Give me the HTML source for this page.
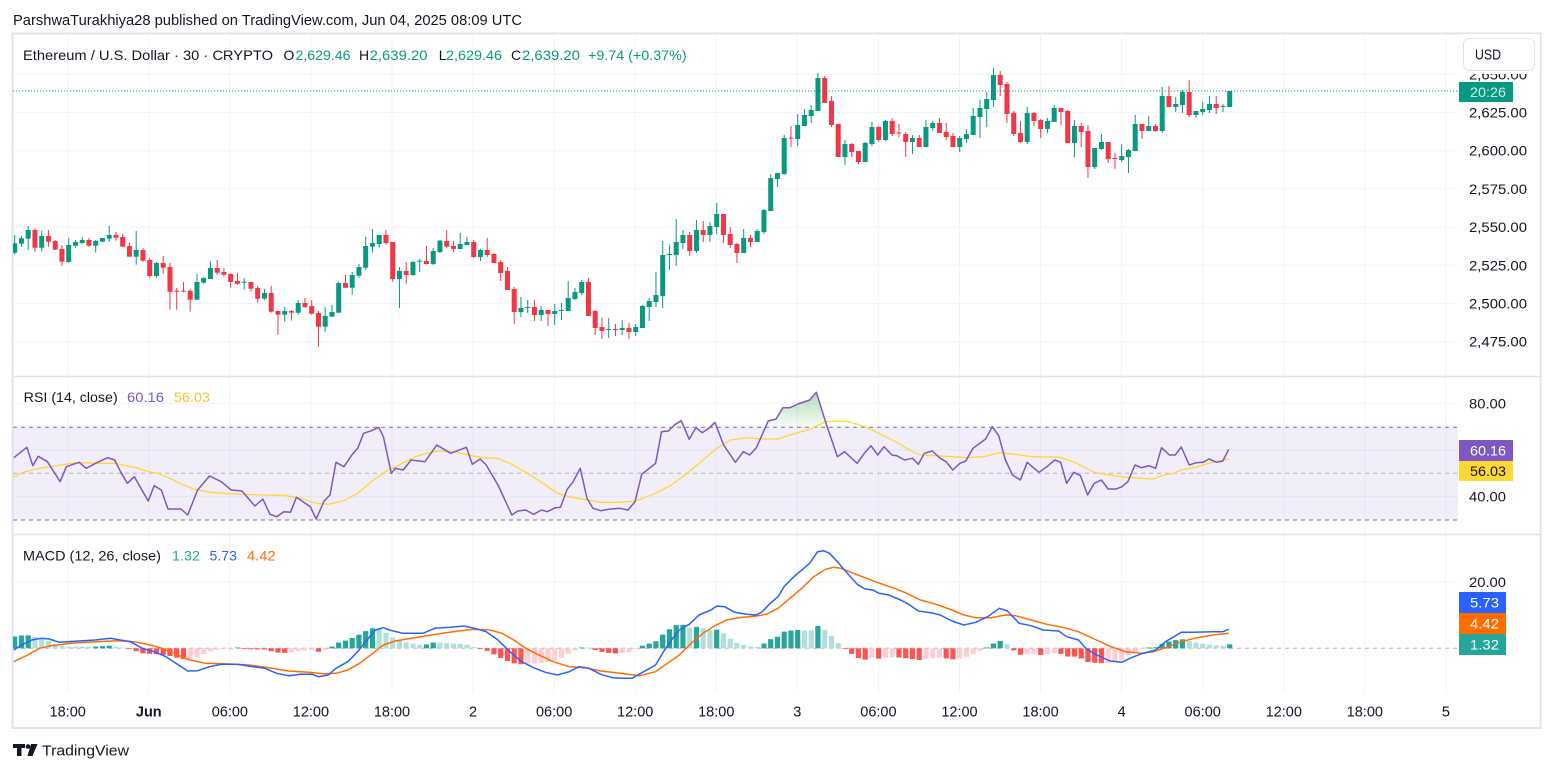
<!DOCTYPE html>
<html><head><meta charset="utf-8">
<style>
html,body{margin:0;padding:0;background:#fff;}
svg{display:block;font-family:"Liberation Sans",sans-serif;}
</style></head>
<body>
<svg id="s" width="1553" height="772" viewBox="0 0 1553 772" xmlns="http://www.w3.org/2000/svg">
<defs>
<clipPath id="cp"><rect x="13" y="34" width="1445" height="342"/></clipPath>
<clipPath id="cr"><rect x="13" y="377" width="1445" height="156"/></clipPath>
<clipPath id="cm"><rect x="13" y="535" width="1445" height="157"/></clipPath>
<clipPath id="cob"><rect x="13" y="377" width="1445" height="50.3"/></clipPath>
<linearGradient id="gg" x1="0" y1="390" x2="0" y2="427.3" gradientUnits="userSpaceOnUse">
<stop offset="0" stop-color="#4caf50" stop-opacity="0.45"/>
<stop offset="1" stop-color="#4caf50" stop-opacity="0.04"/>
</linearGradient>
</defs>
<rect width="1553" height="772" fill="#fff"/>
<text x="13" y="25" font-size="15" fill="#131722" textLength="509" lengthAdjust="spacingAndGlyphs">ParshwaTurakhiya28 published on TradingView.com, Jun 04, 2025 08:09 UTC</text>
<rect x="12.5" y="33.5" width="1528" height="694.5" fill="#fff" stroke="#e0e3eb" stroke-width="2"/>
<g id="grid" stroke="#f0f3fa" stroke-width="1"></g>
<rect x="13" y="427.3" width="1445" height="92.7" fill="#7e57c2" fill-opacity="0.1"/>
<line x1="13" y1="427.3" x2="1458" y2="427.3" stroke="#787b86" stroke-dasharray="4 4" stroke-width="1"/>
<line x1="13" y1="473.3" x2="1458" y2="473.3" stroke="#b2b5be" stroke-dasharray="4 4" stroke-width="1"/>
<line x1="13" y1="520" x2="1458" y2="520" stroke="#787b86" stroke-dasharray="4 4" stroke-width="1"/>
<line x1="13" y1="648.3" x2="1458" y2="648.3" stroke="#b2b5be" stroke-dasharray="4 4" stroke-width="1"/>
<line x1="12" y1="376.5" x2="1541" y2="376.5" stroke="#e0e3eb" stroke-width="1.5"/>
<line x1="12" y1="534.5" x2="1541" y2="534.5" stroke="#e0e3eb" stroke-width="1.5"/>
<g id="candles" clip-path="url(#cp)"></g>
<line x1="13" y1="91" x2="1458" y2="91" stroke="#089981" stroke-width="1" stroke-dasharray="1.2 1.8"/>
<g id="rsi" clip-path="url(#cr)"></g>
<g id="macd" clip-path="url(#cm)"></g>
<g id="labels" font-size="14" fill="#131722"></g>

<g font-size="14" fill="#131722">
<text x="23" y="60" textLength="250" lengthAdjust="spacingAndGlyphs">Ethereum / U.S. Dollar · 30 · CRYPTO</text>
<text x="283.5" y="60">O</text>
<text x="295.5" y="60" fill="#089981" textLength="55" lengthAdjust="spacingAndGlyphs">2,629.46</text>
<text x="359" y="60">H</text>
<text x="369.6" y="60" fill="#089981" textLength="58" lengthAdjust="spacingAndGlyphs">2,639.20</text>
<text x="438.8" y="60">L</text>
<text x="446" y="60" fill="#089981" textLength="56" lengthAdjust="spacingAndGlyphs">2,629.46</text>
<text x="511" y="60">C</text>
<text x="522" y="60" fill="#089981" textLength="58" lengthAdjust="spacingAndGlyphs">2,639.20</text>
<text x="588" y="60" fill="#089981" textLength="98.6" lengthAdjust="spacingAndGlyphs">+9.74 (+0.37%)</text>

<text x="23.7" y="402" textLength="94" lengthAdjust="spacingAndGlyphs">RSI (14, close)</text>
<text x="127" y="402" fill="#7e57c2" textLength="37" lengthAdjust="spacingAndGlyphs">60.16</text>
<text x="174" y="402" fill="#f7c52a" textLength="36" lengthAdjust="spacingAndGlyphs">56.03</text>

<text x="23" y="560.5" textLength="138" lengthAdjust="spacingAndGlyphs">MACD (12, 26, close)</text>
<text x="172" y="560.5" fill="#22ab94" textLength="28" lengthAdjust="spacingAndGlyphs">1.32</text>
<text x="209.5" y="560.5" fill="#2962ff" textLength="27.5" lengthAdjust="spacingAndGlyphs">5.73</text>
<text x="247" y="560.5" fill="#ff6d00" textLength="28.5" lengthAdjust="spacingAndGlyphs">4.42</text>
</g>

<rect x="1459" y="34" width="81" height="40" fill="#fff"/>
<rect x="1463.5" y="38.5" width="71" height="32" rx="6" fill="#fff" stroke="#e0e3eb" stroke-width="1"/>
<text x="1475" y="59.5" font-size="15" fill="#131722" textLength="26" lengthAdjust="spacingAndGlyphs">USD</text>
<rect x="1459" y="82" width="54" height="20" fill="#089981"/>
<text x="1470" y="97" font-size="14" fill="#d5f0ea" textLength="36" lengthAdjust="spacingAndGlyphs">20:26</text>

<rect x="1459" y="440" width="54" height="21" fill="#7e57c2"/>
<text x="1470" y="455.5" font-size="14" fill="#fff" textLength="36" lengthAdjust="spacingAndGlyphs">60.16</text>
<rect x="1459" y="461" width="54" height="20" fill="#fdd835"/>
<text x="1470" y="476" font-size="14" fill="#131722" textLength="36" lengthAdjust="spacingAndGlyphs">56.03</text>

<rect x="1459" y="592" width="47" height="21" fill="#2962ff"/>
<text x="1470" y="607.5" font-size="14" fill="#fff" textLength="29" lengthAdjust="spacingAndGlyphs">5.73</text>
<rect x="1459" y="613" width="47" height="21" fill="#ff6d00"/>
<text x="1470" y="628.5" font-size="14" fill="#fff" textLength="29" lengthAdjust="spacingAndGlyphs">4.42</text>
<rect x="1459" y="634" width="47" height="21" fill="#26a69a"/>
<text x="1470" y="649.5" font-size="14" fill="#fff" textLength="29" lengthAdjust="spacingAndGlyphs">1.32</text>

<g fill="#131722">
<rect x="13" y="744" width="12" height="4"/>
<rect x="17" y="744" width="4.5" height="12"/>
<circle cx="28" cy="746.5" r="2.3"/>
<polygon points="31,744 37.5,744 32.5,756 27.5,756"/>
</g>
<text x="42" y="755.5" font-size="15" fill="#131722" textLength="87" lengthAdjust="spacingAndGlyphs">TradingView</text>
</svg>
<script>
(function(){
var NS="http://www.w3.org/2000/svg";
function el(p,t,a,txt){var e=document.createElementNS(NS,t);for(var k in a)e.setAttribute(k,a[k]);if(txt!=null)e.textContent=txt;p.appendChild(e);return e;}

var grid=document.getElementById('grid');
for(var i=0;i<18;i++){var gx=67.7+i*81.07;el(grid,'line',{x1:gx,y1:34,x2:gx,y2:692});}
[74.3,112.5,150.7,188.9,227.1,265.3,303.5,341.7,403.3,450,496.7,582].forEach(function(y){el(grid,'line',{x1:13,y1:y,x2:1458,y2:y});});

var lab=document.getElementById('labels');
[["2,650.00",74.3],["2,625.00",112.5],["2,600.00",150.7],["2,575.00",188.9],["2,550.00",227.1],["2,525.00",265.3],["2,500.00",303.5],["2,475.00",341.7]].forEach(function(p){el(lab,'text',{x:1469,y:p[1]+5,textLength:58,lengthAdjust:'spacingAndGlyphs'},p[0]);});
[["80.00",403.3],["40.00",496.7],["20.00",582]].forEach(function(p){el(lab,'text',{x:1469,y:p[1]+5,textLength:37,lengthAdjust:'spacingAndGlyphs'},p[0]);});
var tl=["18:00","Jun","06:00","12:00","18:00","2","06:00","12:00","18:00","3","06:00","12:00","18:00","4","06:00","12:00","18:00","5"];
tl.forEach(function(t,i){var a={x:67.7+i*81.07,y:716.5,'text-anchor':'middle','font-size':'14.5'};if(t==="Jun")a['font-weight']='bold';el(lab,'text',a,t);});

var C=[
["g",243.3,252.7,235,254.3],["g",238.3,243.7,236,246.7],["g",230,238.7,226,250],["r",230,247.7,228.3,251.7],["g",236,247.7,231,251.7],
["r",236,241.7,230,246.7],["r",241,249.7,240,250],["r",249,261.7,245,265.7],["g",245,262,237.7,262.7],["g",242,245.7,240,247.7],
["g",240,243,237,244.3],["r",240,245.7,238,246.7],["g",241,245.7,240,252.7],["g",238,241.7,238,242.3],["g",235,238.7,226,241.7],
["r",235,237.7,232,240.7],["r",237,246.7,234,246.7],["r",246,256.7,242.7,256.7],["g",250,256.7,231,264.7],["r",250,260.7,248,261.7],
["r",260,276,258,277.7],["g",263,276,262,277.7],["r",263,267.7,256,273.7],["r",267,291.7,263,309.7],["r",290.7,291.7,288,309.7],
["r",290.7,291.7,282,292.3],["r",290.7,299.7,288.7,311.7],["g",282,299.7,274,299.7],["g",278,282.7,277.3,283.7],["g",268,279,261,279],
["r",268,272.7,260,275],["r",272,274.7,268,276.7],["r",274,282,273,287.7],["r",281,283.7,273,284.7],["g",281.7,282.7,278,289.7],
["r",282,288.7,282,291.7],["r",288,298.7,286,302.7],["g",293,298.7,289,300],["r",293,311.7,286,312.7],["r",311,314.7,311,334.7],
["g",311,314.7,307,321.7],["r",311,312.7,310,320.7],["g",303,312.7,300,314.7],["r",303,307,298,308],["r",306,313.7,300,314.7],
["r",313,326.7,311,346.7],["g",316,326.7,307,331.7],["g",312,316.7,305,316.7],["g",283,312.7,281.3,312.7],["r",283,287.7,275,288.3],
["g",275,287.7,272,294.7],["g",267,275.7,264,277.7],
["g",246,267.7,236.7,270],["g",243,246.7,229,252.7],["g",235,244,235,247.7],["r",235,243,230,244.7],["r",242,279,242,281.7],
["g",271,279,267,308],["r",271,275,262,283.7],["g",262,275,261,276],["g",260.7,261.7,259,272],["r",261,264,246,264.7],
["g",251,264,248,265],["g",240.7,252,240,253],["r",241,246.7,230,247.7],["r",246,249,241,252],["g",244,249,233,249],
["g",242,245,237,245],["r",242,257,240,258],["g",250,257,249,261],["r",250,255,238,257],["r",254,263,253,263],
["r",262,273,260,281],["r",271,290,267,290],["r",289,312,287,324],["g",308,312,297,317],["g",307,308,300,313],
["r",307,315,300,321],["g",310,315,306,321],["r",310,314,310,326],["g",311,314,304,325],["g",310,311,303,320],
["g",298,311,281,311],["g",292,299,288,300],["g",282,293,280,295],["r",282,316,278,316],["r",311,328,310,335],
["r",327,331,318,339],["g",329,330,318,338],["r",329,330,324,336],["g",328,330,320,335],["r",328,332,323,339],
["g",327,332,324,336],["g",306,328,305,328],["g",301,307,298,321],["g",295,302,272,307],["g",255,296,241,308],
["g",254,255,245,270],["g",242,255,219,266],["g",235,243,230,249],["r",235,251,232,256],["g",230,251,220,253],
["r",230,235,221,242],["g",226,235,222,242],["g",214,227,203,234],["r",214,235,214,243],["r",234,245,227,248],
["r",244,253,243,263],["g",238,253,229,253],["r",238,242,235,247],["g",231,242,229,242],["g",210,232,209,234],
["g",178,211,174,211],["g",173,179,173,187],["g",138,174,135,175],["r",137.5,138.5,126,147],["g",125,139,114,146],
["g",115,126,109,126],["g",110,116,105,123],["g",78,111,73,111],["r",78,103,76,103],["r",101,125,96,127],
["r",124,157,124,157],["g",144,157,140,165],["r",144,152,143,157],["r",151,162,151,164],["g",143,162,142,162],
["g",127,144,122,146],["r",127,140,126,142],["g",121,140,120,141],["r",121,134,118,136],
["r",132.5,133.5,124,137],["r",134,142,132,157],["g",138,142,135,154],["r",138,147,135,147],["g",127,147,120,147],
["g",123,128,121,131],["r",123,133,118,133],["r",132,137,123,140],["r",136,147,133,147],["g",138,147,136,152],
["g",134,139,129,143],["g",116,135,108,135],["g",108,117,100,138],["g",99,109,92,127],["g",75,100,68,107],
["r",75,85,71,96],["r",84,114,82,123],["r",113,134,111,136],["r",133,142,121,143],["g",113,142,107,144],
["r",113,121,112,126],["r",120,129,119,138],["g",121,129,118,133],["g",108,122,105,122],["r",108,112,108,125],
["r",111,143,110,143],["g",126,143,120,157],["r",126,132,123,147],["r",131,167,125,178],["g",148,167,148,169],
["g",142,149,134,150],["r",142,159,142,163],["r",158,159,153,169],["g",156,160,144,162],["g",150,157,149,173],
["g",124,151,115,151],["r",124,131,124,139],["g",126,131,116,131],["r",126,131,124,132],["g",96,131,87,133],
["r",96,107,86,107],["g",104,107,97,112],["g",92,105,90,113],["r",92,115,80,117],["g",111,115,111,118],
["g",109,112,102,115],["g",104,110,96,113],["r",104,108,96,114],["g",106,107,104,112],["g",91,107,91,107]
];
var gc=document.getElementById('candles');
C.forEach(function(c,i){var x=14.7+i*6.75;var col=c[0]==="g"?"#089981":"#f23645";
 el(gc,'rect',{x:(x-0.5).toFixed(2),y:c[3],width:1,height:(c[4]-c[3]).toFixed(2),fill:col});
 el(gc,'rect',{x:(x-2.5).toFixed(2),y:c[1],width:5,height:Math.max(1,c[2]-c[1]).toFixed(2),fill:col});});

function conv(a,off){return a.map(function(p){return [off+p[0]/2.53,385+p[1]/3];});}
function join(a,b){return conv(a,0).concat(conv(b,620).slice(1));}
function pstr(a){return a.map(function(p){return p[0].toFixed(1)+","+p[1].toFixed(1);}).join(" ");}
function interp(pts,x){if(x<=pts[0][0])return pts[0][1];for(var i=1;i<pts.length;i++){if(x<=pts[i][0]){var a=pts[i-1],b=pts[i];return a[1]+(b[1]-a[1])*(x-a[0])/(b[0]-a[0]);}}return pts[pts.length-1][1];}

var R10=[[35,218],[68,187],[83,242],[97,214],[120,230],[152,290],[168,245],[200,232],[218,250],[245,233],[272,218],[290,225],[305,260],[322,295],[340,275],[375,348],[390,302],[408,315],[425,372],[458,372],[475,390],[500,315],[530,273],[560,290],[585,315],[612,318],[645,363],[665,342],[683,388],[700,395],[718,380],[735,382],[750,337],[785,365],[800,402],[820,348],[835,330],[850,232],[870,245],[890,210],[905,190],[920,145],[940,137],[958,127],[970,155],[990,265],[1000,250],[1020,255],[1040,225],[1075,230],[1105,180],[1140,205],[1180,187],[1195,238],[1215,222],[1230,240],[1260,300],[1295,390],[1310,378],[1330,375],[1350,388],[1370,375],[1385,380],[1405,368],[1418,367],[1435,313],[1450,290],[1468,250],[1485,340],[1500,370],[1520,377],[1540,373],[1568,370]];
var R11=[[0,368],[20,375],[38,350],[55,268],[90,235],[105,140],[122,138],[140,118],[155,107],[175,163],[192,128],[208,143],[225,130],[240,112],[262,180],[292,232],[312,200],[328,210],[345,188],[375,108],[395,102],[412,68],[430,68],[450,57],[480,45],[497,22],[520,110],[550,215],[568,200],[600,235],[618,205],[635,182],[652,210],[668,185],[688,210],[700,212],[720,225],[740,220],[755,238],[770,205],[790,198],[810,220],[825,230],[842,255],[860,235],[875,228],[893,190],[925,162],[942,125],[958,152],[975,225],[993,270],[1013,285],[1030,232],[1060,262],[1080,245],[1100,225],[1115,232],[1130,295],[1148,262],[1165,272],[1183,330],[1200,295],[1218,285],[1235,312],[1255,312],[1270,305],[1285,290],[1303,240],[1320,248],[1338,242],[1355,250],[1370,188],[1390,210],[1405,210],[1420,186],[1440,240],[1458,233],[1475,232],[1490,222],[1510,232],[1525,228],[1540,193]];
var Y10=[[35,275],[60,262],[100,250],[140,243],[180,235],[210,233],[250,235],[290,235],[320,242],[350,250],[375,260],[400,265],[430,280],[460,298],[490,312],[530,322],[580,326],[620,328],[660,330],[720,331],[760,340],[800,355],[830,358],[870,347],[905,325],[940,290],[975,260],[1010,240],[1050,215],[1080,205],[1110,198],[1150,200],[1185,210],[1220,218],[1260,220],[1290,235],[1330,262],[1370,292],[1410,325],[1440,335],[1480,344],[1520,352],[1568,352]];
var Y11=[[0,352],[40,348],[90,325],[130,300],[170,265],[210,225],[245,190],[280,165],[320,158],[360,162],[400,162],[430,150],[480,133],[520,110],[550,108],[580,110],[620,125],[660,148],[700,172],[740,200],[760,210],[800,212],[840,215],[880,218],[920,215],[960,203],[1000,208],[1040,215],[1080,216],[1110,216],[1150,232],[1200,262],[1250,272],[1290,278],[1350,282],[1370,272],[1400,265],[1420,255],[1460,245],[1500,232],[1540,222]];
var rsi=join(R10,R11), rma=join(Y10,Y11);
var gr=document.getElementById('rsi');
var fillPts=rsi.concat([[rsi[rsi.length-1][0],427.3],[rsi[0][0],427.3]]);
el(gr,'polygon',{points:pstr(fillPts),fill:'url(#gg)','clip-path':'url(#cob)'});
el(gr,'polyline',{points:pstr(rma),fill:'none',stroke:'#fdd835','stroke-width':1.3,'stroke-linejoin':'round'});
el(gr,'polyline',{points:pstr(rsi),fill:'none',stroke:'#7e57c2','stroke-width':1.5,'stroke-linejoin':'round'});

var B10=[[35,795],[55,780],[80,765],[105,760],[125,762],[150,772],[200,768],[240,765],[280,760],[300,764],[330,770],[360,790],[390,800],[420,815],[445,835],[475,858],[500,857],[530,845],[560,838],[600,838],[640,845],[670,850],[700,865],[730,872],[760,868],[790,868],[805,875],[830,870],[850,850],[880,830],[905,800],[925,770],[950,735],[970,728],[985,735],[1020,745],[1070,745],[1100,730],[1140,727],[1175,723],[1200,730],[1230,740],[1260,765],[1290,800],[1320,830],[1350,848],[1380,862],[1410,870],[1440,860],[1465,845],[1490,850],[1520,868],[1550,878],[1568,880]];
var B11=[[0,880],[30,880],[60,860],[90,840],[110,800],[130,765],[150,735],[175,718],[200,690],[230,675],[245,663],[265,665],[290,682],[320,688],[345,690],[360,680],[380,655],[400,635],[415,605],[440,575],[460,555],[480,535],[500,500],[515,497],[530,505],[550,530],[575,565],[600,598],[620,612],[640,615],[655,625],[680,630],[710,645],[730,658],[755,678],[790,684],[810,690],[840,708],[870,720],[900,712],[930,695],[960,670],[980,678],[1010,715],[1040,722],[1070,735],[1110,738],[1130,755],[1160,765],[1180,792],[1210,812],[1240,828],[1270,832],[1290,820],[1320,806],[1355,795],[1380,770],[1420,742],[1450,742],[1500,740],[1525,740],[1540,733]];
var O10=[[35,830],[70,810],[100,790],[130,782],[180,775],[240,770],[300,767],[340,770],[380,780],[410,790],[440,805],[480,825],[520,835],[580,837],[630,840],[680,848],[730,858],[780,862],[820,866],[850,865],[880,855],[910,835],[940,808],[970,780],[1000,768],[1040,760],[1080,752],[1120,745],[1160,738],[1200,733],[1240,735],[1270,745],[1300,765],[1330,790],[1360,808],[1400,830],[1440,845],[1480,848],[1520,858],[1568,865]];
var O11=[[0,865],[50,872],[90,860],[120,835],[150,810],[180,775],[210,745],[240,722],[270,705],[300,698],[345,693],[370,688],[400,670],[430,640],[460,610],[490,575],[520,553],[540,547],[560,550],[590,565],[620,578],[650,592],[690,608],[720,622],[760,645],[800,658],[840,675],[870,690],[900,698],[940,698],[975,690],[1000,692],[1040,705],[1080,718],[1120,727],[1160,740],[1200,762],[1240,784],[1280,800],[1320,805],[1350,800],[1380,788],[1420,770],[1460,758],[1500,750],[1540,745]];
var blue=join(B10,B11), orng=join(O10,O11);
var gm=document.getElementById('macd');
var prev=0;
for(var j=0;j<C.length;j++){var x=14.7+j*6.75;var h=interp(orng,x)-interp(blue,x);
 var col; if(h>=0) col=(h>=prev)?'#26a69a':'#b2dfdb'; else col=(h<=prev)?'#ff5252':'#ffcdd2';
 var ah=Math.max(0.8,Math.abs(h));
 el(gm,'rect',{x:(x-2.6).toFixed(2),y:(h>=0?648.3-ah:648.3).toFixed(2),width:5.2,height:ah.toFixed(2),fill:col});
 prev=h;}
el(gm,'polyline',{points:pstr(orng),fill:'none',stroke:'#ff6d00','stroke-width':1.5,'stroke-linejoin':'round'});
el(gm,'polyline',{points:pstr(blue),fill:'none',stroke:'#2962ff','stroke-width':1.5,'stroke-linejoin':'round'});
})();
</script>
</body></html>
